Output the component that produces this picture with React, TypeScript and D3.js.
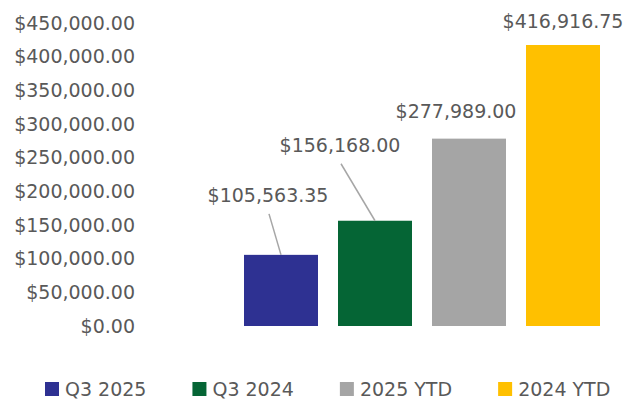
import React, { useEffect, useRef } from "react";
import * as d3 from "d3";

const categories = ["Q3 2025", "Q3 2024", "2025 YTD", "2024 YTD"];
const values = [105563.35, 156168.0, 277989.0, 416916.75];
const colors = ["#2E3192", "#056535", "#A5A5A5", "#FFC000"];
const yTicks = [0, 50000, 100000, 150000, 200000, 250000, 300000, 350000, 400000, 450000];
// label offsets relative to bar top-centre (manual placement as in source)
const labelDx = [-13, -35, -13, 0];
const labelDy = [-53, -69, -21, -17];
const hasLeader = [true, true, false, false];

const W = 636;
const H = 400;
const FONT = "'DejaVu Sans', sans-serif";
const TEXT = "#595959";

export default function App() {
  const ref = useRef<SVGSVGElement>(null);

  useEffect(() => {
    const svg = d3.select(ref.current);
    svg.selectAll("*").remove();

    const fmt = (v: number) => "$" + d3.format(",.2f")(v);
    const y = d3.scaleLinear().domain([0, 450000]).range([326, 22.7]);
    const x = d3
      .scaleBand<string>()
      .domain(categories)
      .range([234, 610])
      .paddingInner(0.2128)
      .paddingOuter(0.1064);

    // y axis labels
    svg
      .append("g")
      .selectAll("text")
      .data(yTicks)
      .join("text")
      .attr("x", 135)
      .attr("y", (d) => y(d))
      .attr("dy", "0.36em")
      .attr("text-anchor", "end")
      .attr("font-family", FONT)
      .attr("font-size", 19)
      .attr("fill", TEXT)
      .text((d) => fmt(d));

    // bars
    svg
      .append("g")
      .selectAll("rect")
      .data(values)
      .join("rect")
      .attr("x", (_, i) => x(categories[i])!)
      .attr("y", (d) => y(d))
      .attr("width", x.bandwidth())
      .attr("height", (d) => y(0) - y(d))
      .attr("fill", (_, i) => colors[i]);

    // data labels + leader lines
    const lg = svg.append("g");
    values.forEach((v, i) => {
      const cx = x(categories[i])! + x.bandwidth() / 2;
      const top = y(v);
      const lx = cx + labelDx[i];
      const ly = top + labelDy[i];
      if (hasLeader[i]) {
        lg.append("line")
          .attr("x1", lx + 1)
          .attr("y1", ly + 12)
          .attr("x2", cx)
          .attr("y2", top)
          .attr("stroke", "#A6A6A6")
          .attr("stroke-width", 1.5);
      }
      lg.append("text")
        .attr("x", lx)
        .attr("y", ly)
        .attr("text-anchor", "middle")
        .attr("font-family", FONT)
        .attr("font-size", 19)
        .attr("fill", TEXT)
        .text(fmt(v));
    });

    // legend
    const leg = svg.append("g");
    let cursor = 45;
    categories.forEach((c, i) => {
      leg.append("rect")
        .attr("x", cursor)
        .attr("y", 382)
        .attr("width", 14)
        .attr("height", 14)
        .attr("fill", colors[i]);
      const t = leg
        .append("text")
        .attr("x", cursor + 20)
        .attr("y", 396)
        .attr("font-family", FONT)
        .attr("font-size", 19)
        .attr("fill", TEXT)
        .text(c);
      const w = (t.node() as SVGTextElement).getComputedTextLength();
      cursor = cursor + 20 + w + 46;
    });
  }, []);

  return (
    <svg
      ref={ref}
      width={W}
      height={H}
      style={{ position: "absolute", left: 0, top: 0, background: "#fff" }}
    />
  );
}
